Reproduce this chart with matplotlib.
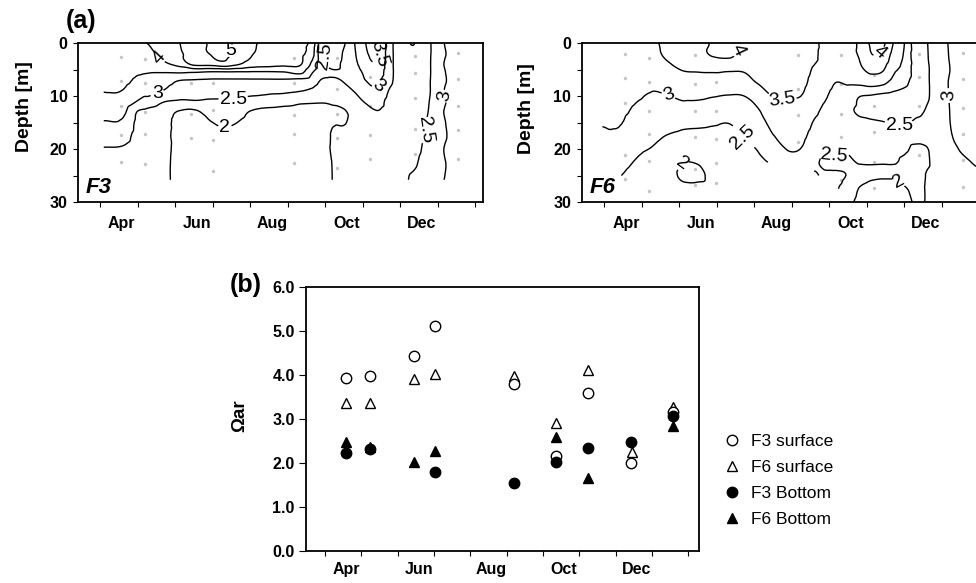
import numpy as np
import matplotlib
matplotlib.use("Agg")
import matplotlib.pyplot as plt
from matplotlib.tri import Triangulation, UniformTriRefiner, CubicTriInterpolator

plt.rcParams['font.family'] = ['Liberation Sans', 'DejaVu Sans']

# ---------------- data ----------------
# time axis: months since 1 April
month_labels = ['Apr', 'Jun', 'Aug', 'Oct', 'Dec']
month_label_pos = [0.58, 2.58, 4.58, 6.58, 8.58]
month_ticks = list(range(0, 11))
contour_levels = [2.0, 2.5, 3.0, 3.5, 4.0, 4.5, 5.0]
nan = np.nan

# F3 gridded Omega_ar (one list per time column, values by depth)
f3_time = [0.1, 0.6, 1.0, 1.3, 1.7, 2.1, 2.5, 2.95, 3.3, 3.6, 4.0, 4.4, 4.9, 5.35,
           5.65, 5.9, 6.2, 6.5, 6.8, 7.1, 7.4, 7.7, 8.0, 8.4, 8.8, 9.2, 9.6, 10.4]
f3_depth = [0, 2, 4, 5.5, 7, 9, 11, 13, 15, 17.5, 20, 23, 25.8]
f3_omega = [
    [3.90, 3.85, 3.78, 3.72, 3.64, 3.52, 3.35, 3.15, 2.97, 2.75, 2.47, 2.35, 2.30],
    [3.95, 3.90, 3.82, 3.74, 3.65, 3.49, 3.35, 3.12, 2.93, 2.70, 2.45, 2.30, 2.25],
    [3.97, 3.90, 3.75, 3.56, 3.42, 3.20, 2.98, 2.48, 2.40, 2.35, 2.30, 2.25, 2.20],
    [4.02, 3.90, 3.70, 3.52, 3.38, 3.20, 2.80, 2.35, 2.30, 2.25, 2.22, 2.20, 2.20],
    [4.30, 4.15, 3.90, 3.52, 3.25, 2.98, 2.53, 2.20, 2.12, 2.08, 2.06, 2.05, 2.05],
    [4.48, 4.40, 4.15, 3.55, 3.02, 2.72, 2.45, 1.97, 1.90, 1.92, 1.95, 1.95, 1.95],
    [4.80, 4.75, 4.60, 3.52, 2.98, 2.72, 2.47, 1.90, 1.85, 1.85, 1.88, 1.90, 1.90],
    [5.05, 5.02, 4.65, 3.45, 2.95, 2.68, 2.45, 2.20, 1.98, 1.85, 1.80, 1.78, 1.78],
    [5.20, 5.12, 4.80, 3.45, 2.95, 2.68, 2.45, 2.25, 2.08, 1.90, 1.78, 1.72, 1.70],
    [4.92, 4.85, 4.60, 3.45, 2.95, 2.68, 2.45, 2.22, 2.02, 1.85, 1.75, 1.70, 1.68],
    [4.60, 4.55, 4.30, 3.45, 2.95, 2.65, 2.35, 1.98, 1.85, 1.75, 1.70, 1.65, 1.65],
    [4.42, 4.38, 4.20, 3.45, 2.95, 2.62, 2.30, 1.85, 1.75, 1.65, 1.60, 1.58, 1.58],
    [4.30, 4.25, 4.10, 3.48, 2.95, 2.60, 2.20, 1.80, 1.65, 1.58, 1.55, 1.55, 1.55],
    [4.15, 4.10, 4.03, 3.62, 2.90, 2.52, 2.08, 1.80, 1.65, 1.55, 1.52, 1.52, 1.52],
    [3.80, 3.70, 3.40, 3.05, 2.80, 2.42, 2.05, 1.85, 1.70, 1.60, 1.55, 1.55, 1.55],
    [2.70, 2.68, 2.72, 2.70, 2.48, 2.25, 2.03, 1.90, 1.78, 1.68, 1.62, 1.60, 1.60],
    [2.20, 2.22, 2.35, 2.55, 2.45, 2.25, 2.06, 1.93, 1.97, 2.05, 2.08, 2.02, 2.01],
    [2.45, 2.55, 2.60, 2.60, 2.53, 2.38, 2.15, 1.96, 1.98, 2.10, 2.15, 2.18, 2.20],
    [3.02, 2.97, 2.90, 2.80, 2.70, 2.53, 2.35, 2.15, 2.10, 2.15, 2.20, 2.20, 2.20],
    [3.52, 3.45, 3.30, 3.12, 3.02, 2.75, 2.55, 2.35, 2.25, 2.20, 2.20, 2.22, 2.25],
    [3.65, 3.60, 3.45, 3.30, 3.12, 2.92, 2.68, 2.48, 2.35, 2.30, 2.30, 2.30, 2.30],
    [2.75, 2.75, 2.72, 2.70, 2.65, 2.49, 2.38, 2.35, 2.35, 2.35, 2.35, 2.33, 2.30],
    [2.20, 2.22, 2.25, 2.28, 2.30, 2.30, 2.32, 2.33, 2.35, 2.35, 2.37, 2.37, 2.38],
    [2.00, 2.05, 2.10, 2.12, 2.15, 2.18, 2.20, 2.25, 2.30, 2.35, 2.40, 2.47, 2.60],
    [2.47, 2.47, 2.48, 2.48, 2.49, 2.49, 2.52, 2.55, 2.60, 2.62, 2.68, 2.75, 2.80],
    [3.02, 2.98, 3.03, 2.99, 2.97, 3.02, 2.98, 3.03, 2.99, 2.97, 3.02, 2.99, 3.01],
    [3.18, 3.17, 3.16, 3.17, 3.18, 3.17, 3.16, 3.15, 3.14, 3.13, 3.12, 3.10, 3.08],
    [3.30, 3.28, 3.27, 3.27, 3.26, 3.25, 3.24, 3.22, 3.20, 3.18, 3.16, 3.14, 3.12],
]

# F6 gridded Omega_ar (nan = outside sampled section)
f6_time = [-0.05, 0.4, 0.9, 1.3, 1.7, 2.1, 2.5, 2.9, 3.3, 3.7, 4.1, 4.5, 4.9, 5.3, 5.6,
           5.9, 6.2, 6.5, 6.8, 7.1, 7.4, 7.7, 8.0, 8.3, 8.6, 8.9, 9.2, 9.5, 9.9, 10.4]
f6_depth = [0, 2.5, 5, 7.5, 10, 12.5, 15, 17.5, 20, 22.5, 25, 27.5, 30]
f6_omega = [
    [3.40, 3.38, 3.35, 3.30, 3.25, 3.15, 3.04, 2.90, nan, nan, nan, nan, nan],
    [3.38, 3.36, 3.33, 3.28, 3.22, 3.12, 3.03, 2.93, 2.80, 2.65, 2.52, nan, nan],
    [3.40, 3.38, 3.32, 3.20, 3.05, 2.92, 2.80, 2.70, 2.57, 2.45, 2.35, 2.30, nan],
    [3.45, 3.42, 3.30, 3.10, 2.95, 2.85, 2.75, 2.60, 2.47, 2.35, 2.28, 2.25, nan],
    [3.60, 3.55, 3.40, 3.20, 2.99, 2.85, 2.70, 2.48, 2.32, 2.20, 2.15, 2.15, nan],
    [3.75, 3.70, 3.52, 3.30, 3.06, 2.90, 2.62, 2.40, 2.20, 2.01, 1.93, 2.10, nan],
    [3.90, 3.85, 3.55, 3.30, 3.07, 2.85, 2.60, 2.38, 2.20, 2.02, 1.94, 2.10, nan],
    [4.03, 4.01, 3.57, 3.30, 3.02, 2.80, 2.55, 2.38, 2.22, 2.12, 2.08, 2.10, nan],
    [4.12, 4.05, 3.55, 3.30, 2.98, 2.80, 2.51, 2.40, 2.30, 2.22, 2.18, 2.20, nan],
    [3.98, 3.90, 3.55, 3.32, 2.99, 2.80, 2.65, 2.52, 2.40, 2.32, 2.28, nan, nan],
    [3.90, 3.85, 3.70, 3.52, 3.20, 2.98, 2.80, 2.65, 2.52, 2.45, nan, nan, nan],
    [3.85, 3.82, 3.75, 3.65, 3.52, 3.35, 3.15, 2.98, 2.75, 2.55, nan, nan, nan],
    [3.80, 3.78, 3.72, 3.62, 3.52, 3.38, 3.25, 3.12, 3.02, 2.85, nan, nan, nan],
    [3.75, 3.72, 3.65, 3.58, 3.48, 3.35, 3.20, 3.07, 2.97, 2.80, nan, nan, nan],
    [3.65, 3.60, 3.45, 3.35, 3.22, 3.10, 2.97, 2.85, 2.72, 2.58, 2.45, nan, nan],
    [3.30, 3.30, 3.28, 3.20, 3.05, 2.92, 2.85, 2.75, 2.60, 2.42, 2.55, 2.60, nan],
    [3.40, 3.38, 3.25, 2.99, 2.80, 2.70, 2.65, 2.62, 2.60, 2.42, 2.55, 2.52, nan],
    [3.45, 3.42, 3.30, 3.06, 2.75, 2.56, 2.60, 2.62, 2.55, 2.42, 2.48, 2.35, 2.20],
    [3.55, 3.52, 3.40, 3.10, 2.52, 2.45, 2.56, 2.62, 2.60, 2.53, 2.30, 1.98, 1.85],
    [4.05, 3.95, 3.62, 3.20, 2.47, 2.35, 2.55, 2.65, 2.63, 2.56, 2.15, 1.80, 1.70],
    [4.15, 3.90, 3.58, 3.12, 2.40, 2.30, 2.52, 2.63, 2.62, 2.55, 2.10, 1.75, 1.65],
    [3.52, 3.35, 3.12, 2.85, 2.35, 2.25, 2.48, 2.60, 2.60, 2.55, 2.10, 1.80, 1.70],
    [3.02, 2.95, 2.85, 2.62, 2.30, 2.20, 2.45, 2.58, 2.55, 2.42, 2.20, 1.95, 1.80],
    [2.30, 2.30, 2.35, 2.35, 2.30, 2.38, 2.55, 2.58, 2.45, 2.35, 2.25, 2.15, 2.10],
    [2.48, 2.47, 2.45, 2.45, 2.45, 2.52, 2.60, 2.60, 2.48, 2.45, 2.52, 2.55, 2.55],
    [2.72, 2.70, 2.70, 2.70, 2.68, 2.70, 2.70, 2.70, 2.68, 2.65, 2.65, 2.65, 2.65],
    [3.03, 3.01, 2.98, 3.02, 3.01, 2.99, 2.98, 2.95, 2.85, 2.80, 2.80, 2.80, 2.80],
    [3.25, 3.22, 3.20, 3.20, 3.18, 3.15, 3.12, 3.08, 3.02, 2.92, 2.88, 2.85, 2.85],
    [3.30, 3.28, 3.25, 3.25, 3.22, 3.20, 3.17, 3.13, 3.08, 3.02, 2.95, 2.90, 2.88],
    [3.32, 3.30, 3.28, 3.27, 3.25, 3.22, 3.20, 3.16, 3.12, 3.06, 2.99, 2.95, 2.92],
]

# sampling points (gray dots)
f3_sample_time = ([0.55] * 5 + [1.2] * 5 + [2.43] * 3 + [3.0] * 4 + [5.16] * 5 +
                  [6.31] * 5 + [7.2] * 4 + [8.4] * 5 + [9.55] * 5)
f3_sample_depth = [2.7, 7.1, 11.9, 17.4, 22.4, 3.0, 7.5, 13.1, 17.2, 22.9,
                   7.5, 13.4, 17.9, 7.6, 12.6, 18.3, 24.1,
                   2.8, 7.5, 13.6, 17.2, 22.6, 2.9, 8.6, 13.4, 17.9, 23.5,
                   6.5, 11.9, 17.4, 21.8, 2.4, 5.6, 10.3, 16.2, 20.9,
                   1.8, 6.7, 11.8, 16.5, 21.9]
f6_sample_time = ([0.54] * 5 + [1.19] * 6 + [2.41] * 6 + [2.97] * 5 + [5.16] * 4 +
                  [6.32] * 6 + [7.21] * 5 + [8.41] * 4 + [9.57] * 6)
f6_sample_depth = [2.0, 6.6, 11.3, 21.2, 25.6, 2.9, 7.4, 12.9, 17.2, 22.3, 27.9,
                   2.2, 7.8, 12.9, 17.7, 23.7, 26.7, 7.4, 12.9, 18.2, 22.6, 26.4,
                   2.2, 8.6, 13.5, 18.7, 2.3, 7.8, 13.3, 17.7, 22.1, 25.9,
                   6.1, 11.8, 16.8, 22.5, 27.4, 2.1, 6.4, 11.9, 21.1,
                   1.8, 6.7, 12.3, 17.1, 22.1, 27.2]

# panel (b) scatter
f3_surf_t = [0.57, 1.24, 2.45, 3.02, 5.19, 6.35, 7.23, 8.43, 9.59]
f3_surf = [3.94, 3.97, 4.43, 5.11, 3.80, 2.16, 3.59, 2.00, 3.15]
f6_surf_t = [0.57, 1.24, 2.45, 3.02, 5.19, 6.35, 7.23, 8.45, 9.59]
f6_surf = [3.37, 3.37, 3.91, 4.02, 3.97, 2.91, 4.12, 2.25, 3.27]
f3_bot_t = [0.57, 1.24, 3.02, 5.19, 6.35, 7.23, 8.43, 9.59]
f3_bot = [2.23, 2.31, 1.79, 1.54, 2.02, 2.33, 2.47, 3.06]
f6_bot_t = [0.57, 1.24, 2.45, 3.02, 6.35, 7.23, 9.59]
f6_bot = [2.47, 2.37, 2.03, 2.27, 2.59, 1.65, 2.84]

# contour label anchor positions (layout) and optional fixed rotation
f3_label_pos = [(1.55, 2.9), (3.4, 1.3), (1.55, 9.8), (3.55, 10.4), (3.33, 16.0),
                (6.05, 2.3), (7.33, 2.0), (7.45, 8.2), (8.72, 16.5), (9.22, 10.0)]
f3_label_rot = [None, 0, 0, 0, 0, None, None, None, None, None]
f6_label_pos = [(3.6, 1.6), (1.71, 9.9), (4.73, 10.5), (3.71, 17.7), (2.1, 23.0),
                (7.3, 1.2), (7.89, 15.2), (6.11, 22.1), (7.85, 26.2), (9.22, 9.9)]
f6_label_rot = [None, None, None, None, None, None, 0, None, None, None]


# ---------------- helpers ----------------
def refined_field(times, depths, cols):
    Z = np.array(cols, dtype=float).T          # (n_depth, n_time)
    T, D = np.meshgrid(times, depths)
    valid = ~np.isnan(Z)
    idx = -np.ones(Z.shape, dtype=int)
    idx[valid] = np.arange(valid.sum())
    tris = []
    nd, nt = Z.shape
    for i in range(nd - 1):
        for j in range(nt - 1):
            a, b, c, d = idx[i, j], idx[i, j + 1], idx[i + 1, j], idx[i + 1, j + 1]
            if min(a, b, c, d) >= 0:
                tris.append([a, b, d])
                tris.append([a, d, c])
    tri = Triangulation(T[valid], D[valid], triangles=np.array(tris))
    z = Z[valid]
    interp = CubicTriInterpolator(tri, z, kind='geom')
    refiner = UniformTriRefiner(tri)
    return refiner.refine_field(z, triinterpolator=interp, subdiv=3)


TICK_FS = 11.5


def style_section(ax, xlim):
    ax.set_xlim(*xlim)
    ax.set_ylim(30, 0)
    ax.set_yticks([0, 10, 20, 30])
    ax.set_yticks([5, 15, 25], minor=True)
    ax.set_xticks(month_ticks)
    ax.set_xticklabels([])
    ax.set_xticks(month_label_pos, minor=True)
    ax.set_xticklabels(month_labels, minor=True, fontweight='bold', fontsize=TICK_FS)
    ax.tick_params(axis='x', which='major', direction='out', length=3.5, width=0.8)
    ax.tick_params(axis='x', which='minor', length=0, pad=10)
    ax.tick_params(axis='y', which='both', direction='out', length=3.5, width=0.8, pad=4)
    for lab in ax.get_yticklabels():
        lab.set_fontweight('bold')
        lab.set_fontsize(TICK_FS)
    for s in ax.spines.values():
        s.set_linewidth(1.3)
    ax.set_ylabel('Depth [m]', fontweight='bold', fontsize=14)


def draw_section(ax, times, depths, cols, st, sd, label_pos, label_rot, name):
    ax.scatter(st, sd, s=6, color='#c4c4c4', zorder=1, linewidths=0)
    trf, zf = refined_field(times, depths, cols)
    cs = ax.tricontour(trf, zf, levels=contour_levels, colors='black',
                       linewidths=1.0, zorder=2)
    texts = ax.clabel(cs, fmt='%g', fontsize=14, inline=True, inline_spacing=2,
                      manual=label_pos)
    for t, r in zip(texts, label_rot):
        if r is not None:
            t.set_rotation(r)
    ax.text(0.02, 0.055, name, transform=ax.transAxes, fontsize=16,
            fontweight='bold', style='italic', ha='left', va='baseline')


# ---------------- figure ----------------
fig = plt.figure(figsize=(9.76, 5.83), dpi=100)

ax1 = fig.add_axes([0.0799, 0.6535, 0.415, 0.2727])
draw_section(ax1, f3_time, f3_depth, f3_omega, f3_sample_time, f3_sample_depth,
             f3_label_pos, f3_label_rot, 'F3')
style_section(ax1, (-0.587, 10.213))
ax1.yaxis.set_label_coords(-0.111, 0.6)

ax2 = fig.add_axes([0.596, 0.6535, 0.415, 0.2727])
draw_section(ax2, f6_time, f6_depth, f6_omega, f6_sample_time, f6_sample_depth,
             f6_label_pos, f6_label_rot, 'F6')
style_section(ax2, (-0.603, 10.206))
ax2.yaxis.set_label_coords(-0.115, 0.59)

fig.text(0.0676, 0.985, '(a)', fontsize=18, fontweight='bold', ha='left', va='top')

# panel b
axb = fig.add_axes([0.3135, 0.0549, 0.4027, 0.4528])
ms = 7.5
axb.plot(f6_surf_t, f6_surf, linestyle='none', marker='^', ms=ms, mfc='white',
         mec='black', mew=1.0, label='F6 surface', zorder=3)
axb.plot(f3_surf_t, f3_surf, linestyle='none', marker='o', ms=ms, mfc='white',
         mec='black', mew=1.0, label='F3 surface', zorder=4)
axb.plot(f6_bot_t, f6_bot, linestyle='none', marker='^', ms=ms, mfc='black',
         mec='black', mew=1.0, label='F6 Bottom', zorder=5)
axb.plot(f3_bot_t, f3_bot, linestyle='none', marker='o', ms=ms, mfc='black',
         mec='black', mew=1.0, label='F3 Bottom', zorder=6)
axb.set_xlim(-0.523, 10.294)
axb.set_ylim(0, 6)
axb.set_yticks(np.arange(0, 7, 1))
axb.set_yticklabels(['%.1f' % v for v in np.arange(0, 7, 1)], fontweight='bold',
                    fontsize=TICK_FS)
axb.set_xticks(month_ticks)
axb.set_xticklabels([])
axb.set_xticks(month_label_pos, minor=True)
axb.set_xticklabels(month_labels, minor=True, fontweight='bold', fontsize=TICK_FS)
axb.tick_params(axis='x', which='major', direction='out', length=3.5, width=0.8)
axb.tick_params(axis='x', which='minor', length=0, pad=8)
axb.tick_params(axis='y', which='major', direction='out', length=5, width=0.8, pad=3)
for s in axb.spines.values():
    s.set_linewidth(1.3)
axb.set_ylabel('Ωar', fontweight='bold', fontsize=13.5)
axb.yaxis.set_label_coords(-0.148, 0.511)

handles, labels = axb.get_legend_handles_labels()
order = [labels.index(n) for n in ['F3 surface', 'F6 surface', 'F3 Bottom', 'F6 Bottom']]
leg = axb.legend([handles[i] for i in order], [labels[i] for i in order],
                 loc='upper left', bbox_to_anchor=(0.743, 0.256),
                 bbox_transform=fig.transFigure, frameon=False, fontsize=12.5,
                 handlelength=0.8, handletextpad=0.7, labelspacing=0.63,
                 borderaxespad=0, borderpad=0)

fig.text(0.2357, 0.532, '(b)', fontsize=18, fontweight='bold', ha='left', va='top')

fig.savefig('out.png', dpi=100)
